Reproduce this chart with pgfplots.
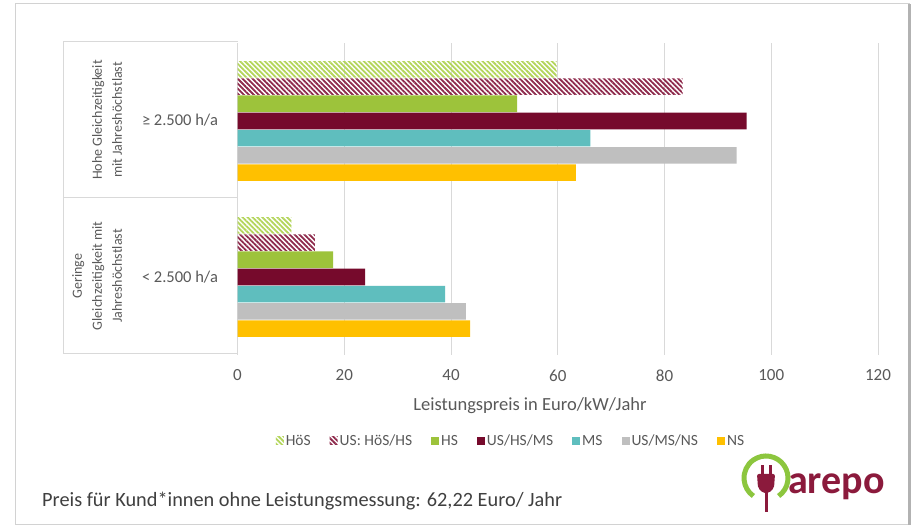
\documentclass[border=0pt]{standalone}
\usepackage{fontspec}
\setmainfont{Carlito}
\usepackage{pgfplots}
\pgfplotsset{compat=1.18}
\usetikzlibrary{patterns.meta}

\definecolor{hsgreen}{HTML}{9DC33B}
\definecolor{hosgreen}{HTML}{B3D55A}
\definecolor{wine}{HTML}{760A2C}
\definecolor{winepat}{HTML}{8E2A4C}
\definecolor{tealc}{HTML}{5FBEBE}
\definecolor{lgray}{HTML}{BFBFBF}
\definecolor{amber}{HTML}{FFC000}
\definecolor{gridgray}{HTML}{D9D9D9}
\definecolor{textgray}{HTML}{595959}
\definecolor{notegray}{HTML}{404040}
\definecolor{logogreen}{HTML}{8CC63E}
\definecolor{logored}{HTML}{8B1A3C}

\newcommand{\barstep}{17.2pt}

\begin{document}
\begin{tikzpicture}[x=1pt,y=1pt]
  % page and outer frame
  \path[fill=white] (0,0) rectangle (914,529);
  \draw[gray!35, line width=1pt] (15,4) rectangle (909,525);
  \draw[gray!60, line width=3pt] (909,4) -- (909,525);

  % two-level category labels on the left
  \begin{scope}[draw=gridgray, line width=1pt]
    \draw (63,529-41.5) -- (237.5,529-41.5);
    \draw (63,529-198) -- (237.5,529-198);
    \draw (63,529-353.5) -- (237.5,529-353.5);
    \draw (63,529-41.5) -- (63,529-353.5);
  \end{scope}
  \node[rotate=90, align=center, text=textgray, font=\fontsize{14}{20}\selectfont]
    at (107,529-120) {Hohe Gleichzeitigkeit\\mit Jahreshöchstlast};
  \node[rotate=90, align=center, text=textgray, font=\fontsize{14}{20}\selectfont]
    at (97,529-276) {Geringe\\Gleichzeitigkeit mit\\Jahreshöchstlast};
  \node[text=textgray, font=\fontsize{16.5}{18}\selectfont] at (180,529-120) {≥ 2.500 h/a};
  \node[text=textgray, font=\fontsize{16.5}{18}\selectfont] at (180,529-277) {< 2.500 h/a};

  \begin{axis}[
    at={(237.5pt,174pt)}, anchor=south west,
    scale only axis, width=640.5pt, height=312pt,
    xbar, bar width=16.6pt,
    xmin=0, xmax=120, ymin=-0.5, ymax=1.5,
    xtick={0,20,...,120}, ytick=\empty,
    xmajorgrids, grid style={draw=gridgray, line width=1pt},
    axis line style={draw=none}, major tick length=0pt,
    /pgf/number format/assume math mode=true,
    xticklabel style={font=\fontsize{17}{19}\selectfont, text=textgray, yshift=-11pt},
    legend columns=7,
    legend style={at={(0.427,-0.275)}, anchor=center, draw=none, fill=none,
      font=\fontsize{15.5}{17}\selectfont, text=textgray,
      /tikz/every even column/.append style={column sep=17pt}},
    legend image code/.code={\path[#1, draw=none] (0pt,-4pt) rectangle (8pt,4pt);},
    clip=false,
  ]
    \addplot[draw=none, fill=white, pattern={Lines[angle=-45,distance=3.5pt,line width=1.8pt]},
      pattern color=hosgreen, bar shift=3*\barstep]
      coordinates {(59.8,1) (10.1,0)};
    \addlegendentry{HöS}
    \addplot[draw=none, fill=white, pattern={Lines[angle=-45,distance=3.5pt,line width=1.8pt]},
      pattern color=winepat, bar shift=2*\barstep]
      coordinates {(83.4,1) (14.5,0)};
    \addlegendentry{US: HöS/HS}
    \addplot[draw=none, fill=hsgreen, bar shift=1*\barstep]
      coordinates {(52.4,1) (17.9,0)};
    \addlegendentry{HS}
    \addplot[draw=none, fill=wine, bar shift=0pt]
      coordinates {(95.4,1) (23.9,0)};
    \addlegendentry{US/HS/MS}
    \addplot[draw=none, fill=tealc, bar shift=-1*\barstep]
      coordinates {(66.1,1) (38.9,0)};
    \addlegendentry{MS}
    \addplot[draw=none, fill=lgray, bar shift=-2*\barstep]
      coordinates {(93.5,1) (42.8,0)};
    \addlegendentry{US/MS/NS}
    \addplot[draw=none, fill=amber, bar shift=-3*\barstep]
      coordinates {(63.4,1) (43.6,0)};
    \addlegendentry{NS}
  \end{axis}

  % axis title
  \node[text=textgray, font=\fontsize{18.5}{20}\selectfont] at (530,529-406) {Leistungspreis in Euro/kW/Jahr};

  % note below the chart
  \node[anchor=base west, inner sep=0pt, text=notegray, font=\fontsize{20.3}{22}\selectfont]
    at (42,529-507) {Preis für Kund*innen ohne Leistungsmessung: 62,22 Euro/ Jahr};

  % logo
  \draw[logogreen, line width=5pt] (766,51) ++(-55:22) arc[start angle=-55, end angle=235, radius=22];
  \fill[logored] (760.5,529-465) rectangle (763.5,529-475);
  \fill[logored] (768.5,529-465) rectangle (771.5,529-475);
  \fill[logored, rounded corners=2pt] (757,529-474) -- (775,529-474) -- (774,529-488) -- (769,529-493) -- (763,529-493) -- (758,529-488) -- cycle;
  \fill[logored] (764.5,529-492) rectangle (767.5,529-512);
  \node[anchor=base west, inner sep=0pt, text=logored, font=\fontsize{40}{40}\bfseries\selectfont, xscale=1.0]
    at (788,529-494) {arepo};
\end{tikzpicture}
\end{document}
